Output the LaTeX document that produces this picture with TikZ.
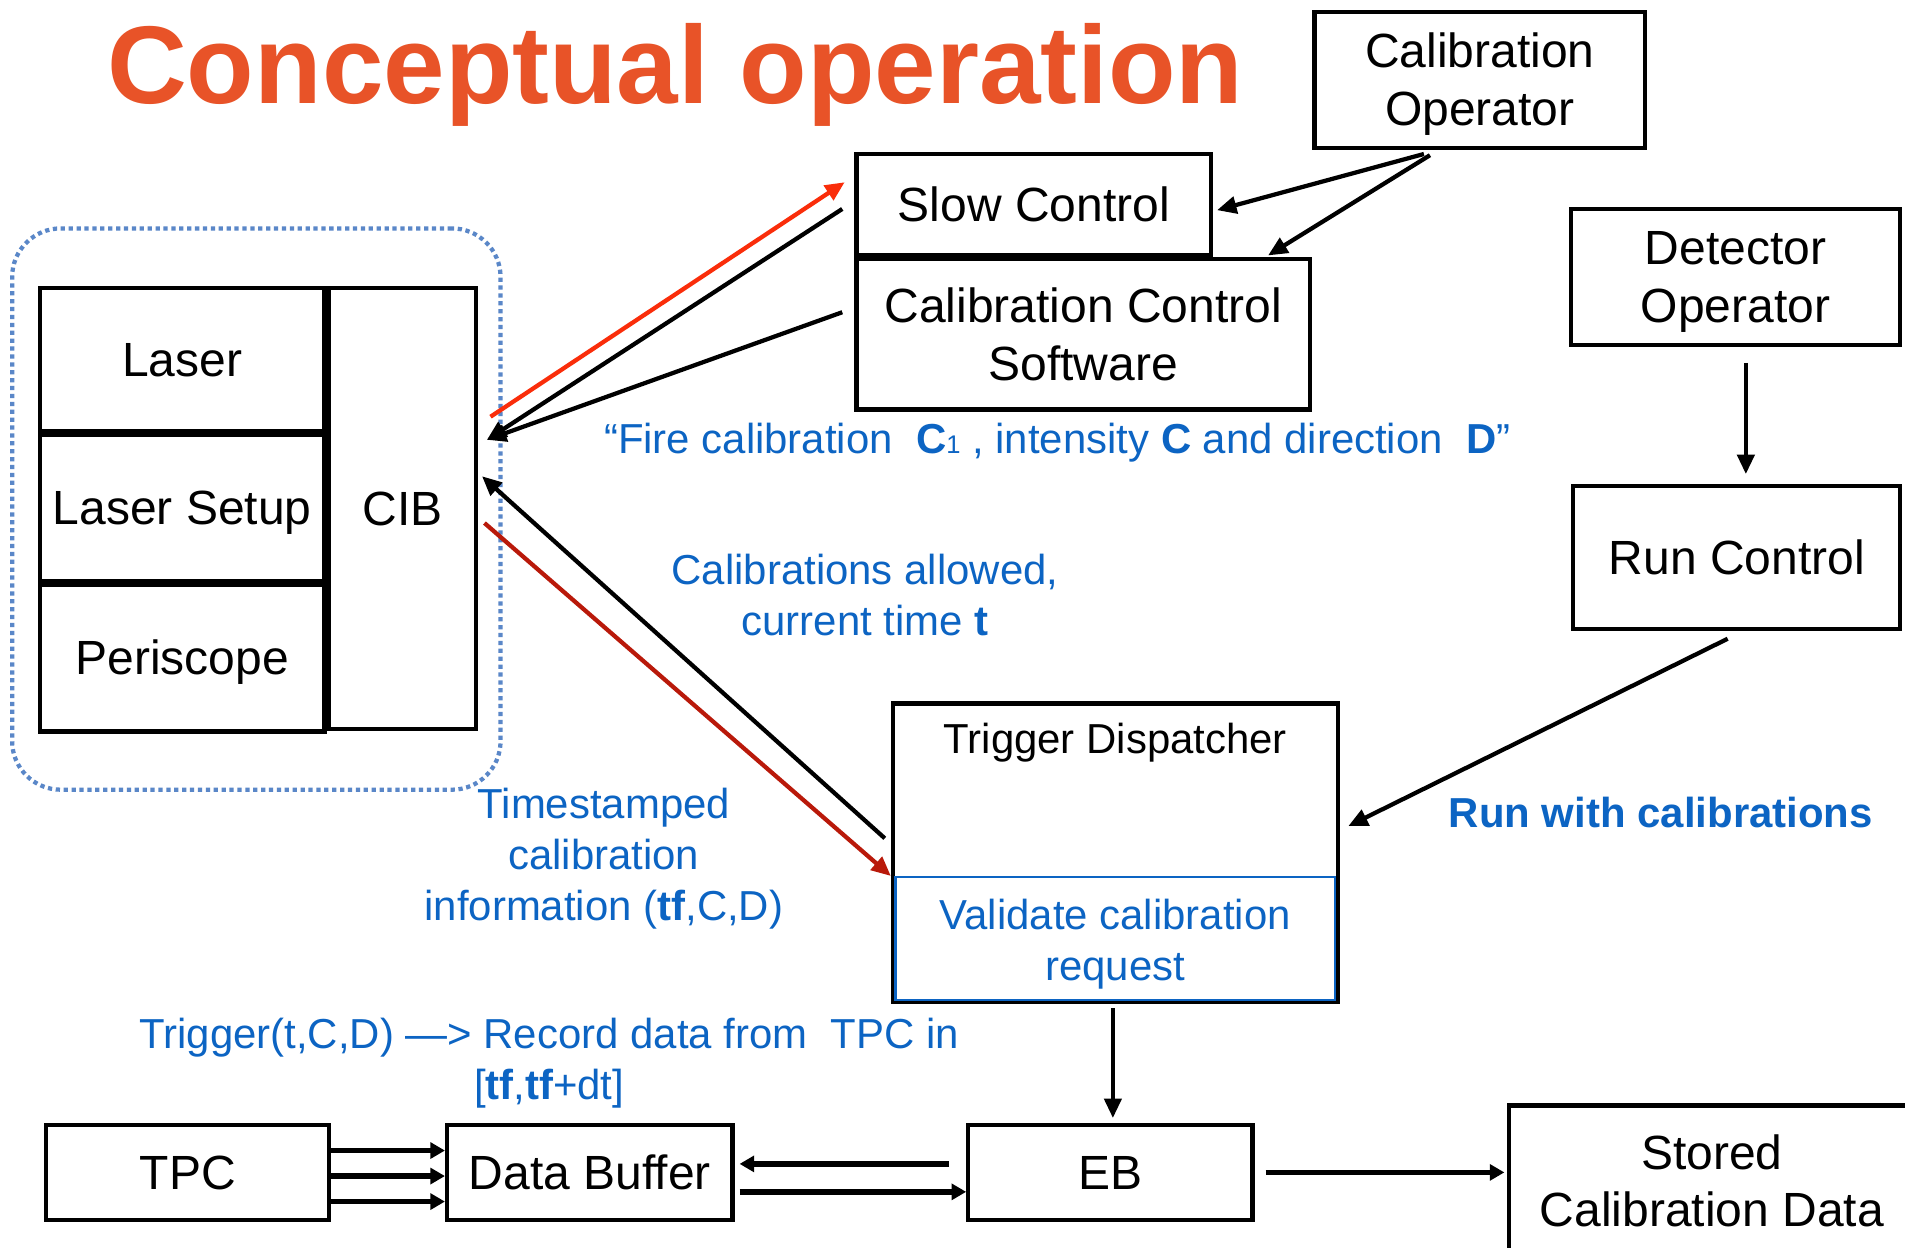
\documentclass[tikz,border=0pt]{standalone}
\usepackage{fontspec}
\setmainfont{Liberation Sans}
\usetikzlibrary{arrows.meta,calc}
\definecolor{titleorange}{RGB}{232,83,40}
\definecolor{txtblue}{RGB}{12,100,195}
\definecolor{groupblue}{RGB}{90,135,200}
\definecolor{firered}{RGB}{250,45,10}
\definecolor{darkred}{RGB}{185,25,10}
\begin{document}
\begin{tikzpicture}[x=1pt,y=-1pt,
  blk/.style={draw=black, line width=3.5pt, inner sep=0pt, align=center,
    font=\fontsize{39.5}{47.5}\selectfont},
  btxt/.style={inner sep=0pt, align=center, font=\fontsize{39.5}{47.5}\selectfont},
  one/.style={text height=28pt, text depth=0pt},
  lbl/.style={text=txtblue, align=center, inner sep=0pt,
    font=\fontsize{34.5}{42}\selectfont},
  arr/.style={line width=3.5pt, -{Triangle[length=16pt,width=14pt]}},
  darr/.style={line width=4.5pt, -{Triangle[length=12pt,width=13pt]}},
]
\useasboundingbox (0,0) rectangle (1568,1027);
\fill[white] (0,0) rectangle (1568,1027);

% title
\node[anchor=base west, inner sep=0pt, text=titleorange,
  font=\fontsize{91}{100}\selectfont\bfseries] (title) at (88,85) {Conceptual operation};

% operators and control software
\node[blk, minimum width=272, minimum height=112] (calop) at (1218,66) {};
\node[btxt] (caloptxt) at (1218,69) {Calibration\\Operator};
\node[blk, minimum width=292, minimum height=83, one] (slow) at (851,168.5) {Slow Control};
\node[blk, minimum width=373, minimum height=124] (ccs) at (891.5,275) {Calibration Control\\Software};
\node[blk, minimum width=271, minimum height=112] (detop) at (1428.5,228) {};
\node[btxt] (deteoptxt) at (1428.5,232) {Detector\\Operator};
\node[blk, minimum width=269, minimum height=118, one] (runc) at (1429.5,459) {Run Control};

% trigger dispatcher with its validation stage
\node[blk, minimum width=366, minimum height=246] (trig) at (918,702) {};
\node[inner sep=0pt, font=\fontsize{34.5}{40}\selectfont] (trigtitle) at (918,611) {Trigger Dispatcher};
\node[draw=txtblue, line width=2pt, minimum width=362, minimum height=101] (valid) at (918,772.5) {};
\node[lbl] (validtxt) at (918,777) {Validate calibration\\request};

% laser system group
\node[draw=groupblue, line width=3.5pt, dash pattern=on 3.5pt off 3pt, rounded corners=40pt,
  minimum width=402, minimum height=462] (grp) at (211,419) {};
\node[blk, minimum width=234, minimum height=118, one] (laser) at (150,296) {Laser};
\node[blk, minimum width=234, minimum height=120, one] (setup) at (150,418) {Laser Setup};
\node[blk, minimum width=234, minimum height=121, one] (peri) at (150,541.5) {Periscope};
\node[blk, minimum width=121, minimum height=363, one] (cib) at (331.5,418.5) {CIB};

% data path
\node[blk, minimum width=233, minimum height=78, one] (tpc) at (154.5,965) {TPC};
\node[blk, minimum width=235, minimum height=78, one] (buf) at (485.5,965) {Data Buffer};
\node[blk, minimum width=234, minimum height=78, one] (eb) at (914,965) {EB};
\node[blk, minimum width=334, minimum height=124] (stored) at (1409,972) {Stored\\Calibration Data};

% labels
\node[lbl, anchor=base west] (fire) at (497,373)
  {“Fire calibration \ \textbf{C}{\fontsize{21}{21}\selectfont 1} , intensity \textbf{C} and direction \ \textbf{D}”};
\node[lbl] (allowed) at (712,489.5) {Calibrations allowed,\\current time \textbf{t}};
\node[lbl] (stamp) at (497,707) {Timestamped\\calibration\\information (\textbf{tf},C,D)};
\node[lbl] (rec) at (452,875) {Trigger(t,C,D) —> Record data from \ TPC in\\{}[\textbf{tf},\textbf{tf}+dt]};
\node[lbl, font=\fontsize{34.5}{42}\selectfont\bfseries] (runlbl) at (1367,669) {Run with calibrations};

% connectors around the CIB
\draw[arr, firered] ([shift={(10,-75.5)}]cib.east) -- ([shift={(-8,-18.5)}]slow.west);
\draw[arr] ([shift={(-10,3.5)}]slow.west) -- ([shift={(7,-56.5)}]cib.east);
\draw[arr] ([shift={(-10,-18)}]ccs.west) -- ([shift={(7,-56.5)}]cib.east);
\draw[arr] ([shift={(-5,-12)}]trig.west) -- ([shift={(3,-26.5)}]cib.east);
\draw[arr, darkred] ([shift={(5,12)}]cib.east) -- ([shift={(0,19)}]trig.west);

% operator commands
\draw[arr] ([shift={(-46,3)}]calop.south) -- ([shift={(3,4.5)}]slow.east);
\draw[arr] ([shift={(-41,4)}]calop.south) -- ([shift={(-36,-1)}]ccs.north east);
\draw[arr] ([shift={(8.5,13)}]detop.south) -- ([shift={(7.5,-8)}]runc.north);
\draw[arr] ([shift={(-7.5,6)}]runc.south) -- ([shift={(7,-22)}]trig.east);
\draw[arr] ([shift={(-2,3)}]trig.south) -- ([shift={(2,-4)}]eb.north);

% data flow
\foreach \dy in {-18,3,24}
  \draw[darr] ([yshift=-\dy pt]tpc.east) -- ([yshift=-\dy pt]buf.west);
\draw[darr] ([shift={(-14,-7)}]eb.west) -- ([shift={(4,-7)}]buf.east);
\draw[darr] ([shift={(4,16)}]buf.east) -- ([shift={(0,16)}]eb.west);
\draw[darr] ([shift={(9,0)}]eb.east) -- ([shift={(-2,-7)}]stored.west);
\end{tikzpicture}
\end{document}
